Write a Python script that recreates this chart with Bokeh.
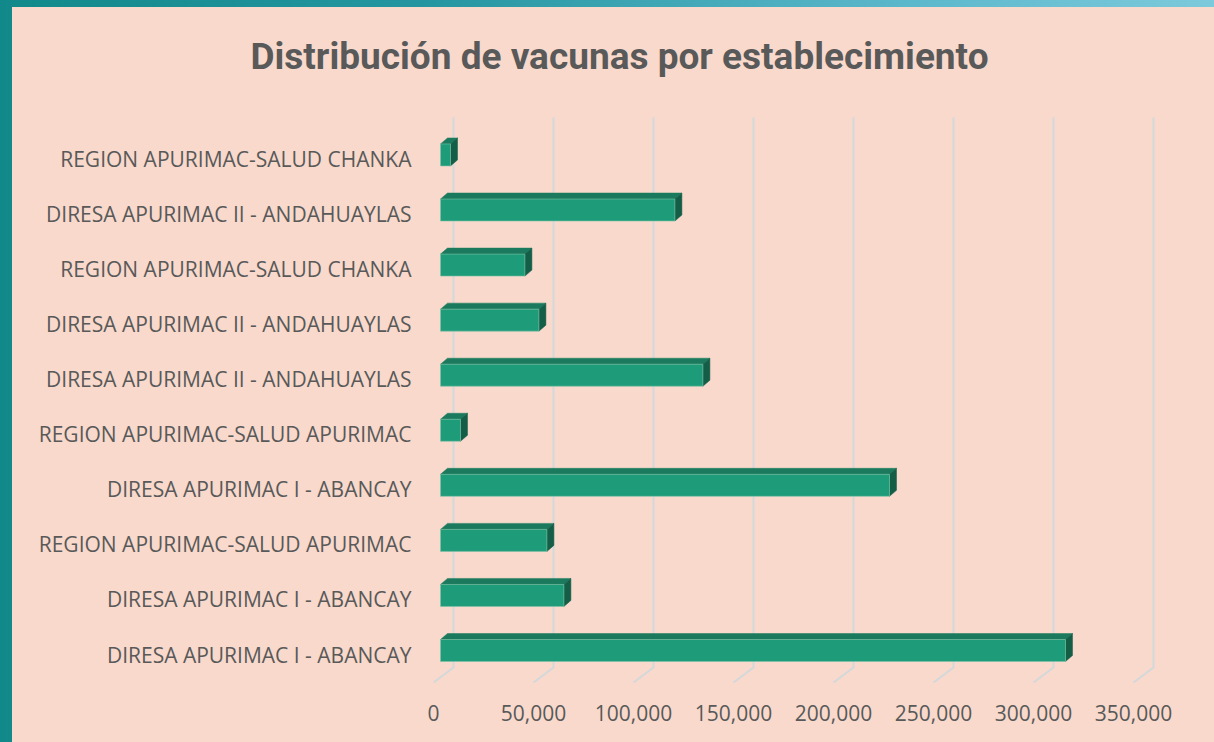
from bokeh.plotting import figure
from bokeh.models import Range1d, LinearAxis, FixedTicker, Title, NumeralTickFormatter
from bokeh.layouts import column
from bokeh.embed import file_html
from bokeh.resources import INLINE

# ---- data (bottom to top) ----
categories = [
    "DIRESA APURIMAC I - ABANCAY",
    "DIRESA APURIMAC I - ABANCAY",
    "REGION APURIMAC-SALUD APURIMAC",
    "DIRESA APURIMAC I - ABANCAY",
    "REGION APURIMAC-SALUD APURIMAC",
    "DIRESA APURIMAC II - ANDAHUAYLAS",
    "DIRESA APURIMAC II - ANDAHUAYLAS",
    "REGION APURIMAC-SALUD CHANKA",
    "DIRESA APURIMAC II - ANDAHUAYLAS",
    "REGION APURIMAC-SALUD CHANKA",
]
values = [312500, 61700, 53200, 224500, 10000, 131200, 49200, 42200, 117200, 5000]
x_ticks = [0, 50000, 100000, 150000, 200000, 250000, 300000, 350000]
title_text = "Distribución de vacunas por establecimiento"

# ---- layout constants (pixels) ----
W, H = 1214, 742
ML, MT = 12, 7                 # outer frame strips
UNITS_PER_PX = 500.0           # x scale
ROW_PX = 55.06                 # y scale (one category per row)
ZERO_PX = 440                  # window x of bar base
FRAME_L, FRAME_R, FRAME_T, FRAME_B = 433, 1194, 100, 702   # window coords
ROW0_PX = 650                  # window y of bottom bar centre

x_start = (FRAME_L - ZERO_PX) * UNITS_PER_PX
x_end = (FRAME_R - ZERO_PX) * UNITS_PER_PX
y_end = (ROW0_PX - FRAME_T) / ROW_PX
y_start = (ROW0_PX - FRAME_B) / ROW_PX

depth_x = 7 * UNITS_PER_PX     # 3D bar depth
depth_y = 6 / ROW_PX
bar_h = 22 / ROW_PX
back_dx = 13 * UNITS_PER_PX    # back wall offset
front_dx = -7 * UNITS_PER_PX   # floor front offset
wall_top = (ROW0_PX - 117) / ROW_PX
floor_back = (ROW0_PX - 667) / ROW_PX
floor_front = (ROW0_PX - 682) / ROW_PX
label_shift = 4 / ROW_PX

BG = "#F8D9CC"
TXT = "#595959"

p = figure(width=W - ML, height=H - MT,
           x_range=Range1d(x_start, x_end), y_range=Range1d(y_start, y_end),
           x_axis_location=None, y_axis_location=None,
           toolbar_location=None, output_backend="svg",
           min_border_left=FRAME_L - ML, min_border_right=W - FRAME_R,
           min_border_top=FRAME_T - MT, min_border_bottom=H - FRAME_B,
           outline_line_color=None)
p.margin = (MT, 0, 0, ML)
p.styles = {"background-color": BG}
p.background_fill_color = BG
p.border_fill_color = BG
p.grid.visible = False

p.extra_x_ranges = {"floor": Range1d(x_start - front_dx, x_end - front_dx)}
p.extra_y_ranges = {"lab": Range1d(y_start + label_shift, y_end + label_shift)}

# gridlines: back wall + floor
gx = [[t + back_dx, t + back_dx, t + front_dx] for t in x_ticks]
gy = [[wall_top, floor_back, floor_front] for _ in x_ticks]
p.multi_line(xs=gx, ys=gy, line_color="#D3D8DA", line_width=2)

idx = list(range(len(values)))

top_xs, top_ys, side_xs, side_ys = [], [], [], []
for i, v in zip(idx, values):
    t = i + bar_h / 2
    b = i - bar_h / 2
    top_xs.append([0, v, v + depth_x, depth_x])
    top_ys.append([t, t, t + depth_y, t + depth_y])
    side_xs.append([v, v + depth_x, v + depth_x, v])
    side_ys.append([b, b + depth_y, t + depth_y, t])
p.patches(xs=top_xs, ys=top_ys, fill_color="#1B7A5D", line_color="#1B7A5D", line_width=0.5)
p.patches(xs=side_xs, ys=side_ys, fill_color="#145E48", line_color="#145E48", line_width=0.5)
p.hbar(y=idx, left=0, right=values, height=bar_h, fill_color="#1E9B79",
       line_color="#7FC3A8", line_width=1, line_alpha=0.6)

# x axis on floor front
xa = LinearAxis(x_range_name="floor", ticker=FixedTicker(ticks=x_ticks))
xa.formatter = NumeralTickFormatter(format="0,0")
xa.axis_line_color = None
xa.major_tick_line_color = None
xa.minor_tick_line_color = None
xa.major_tick_out = 0
xa.major_tick_in = 0
xa.minor_tick_out = 0
xa.major_label_text_font = "Open Sans"
xa.major_label_text_font_size = "21px"
xa.major_label_text_color = TXT
xa.major_label_standoff = 2
p.add_layout(xa, "below")

# y axis labels
ya = LinearAxis(y_range_name="lab", ticker=FixedTicker(ticks=idx))
ya.major_label_overrides = {i: c for i, c in zip(idx, categories)}
ya.axis_line_color = None
ya.major_tick_line_color = None
ya.minor_tick_line_color = None
ya.major_tick_out = 0
ya.major_tick_in = 0
ya.minor_tick_out = 0
ya.major_label_text_font = "Open Sans"
ya.major_label_text_font_size = "21px"
ya.major_label_text_color = TXT
ya.major_label_standoff = FRAME_L - 411
p.add_layout(ya, "left")

p.title = Title(text=title_text, align="left", offset=250 - FRAME_L,
                text_font="Roboto", text_font_size="37px",
                text_font_style="bold", text_color=TXT, standoff=46)

layout = column(p, width=W, height=H,
                styles={"background": "linear-gradient(90deg, #11898a 0%, #2596a0 35%, #5cb8cb 75%, #7ccadb 100%)"})

open("out.html", "w").write(file_html(layout, INLINE))
